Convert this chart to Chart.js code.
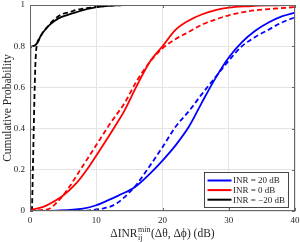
<!DOCTYPE html>
<html>
<head>
<meta charset="utf-8">
<script src="https://cdn.jsdelivr.net/npm/chart.js@4/dist/chart.umd.min.js"></script>
<style>
  html, body { margin: 0; padding: 0; background: #fff; }
  #wrap { width: 300px; height: 242px; }
</style>
</head>
<body>
<div id="wrap"><canvas id="cdfChart" width="300" height="242"></canvas></div>
<script>
// series labels and colours
const seriesLabels = ["INR = 20 dB", "INR = 0 dB", "INR = \u221220 dB"];
const seriesColors = ["#0000ff", "#ff0000", "#000000"];

// INR = 20 dB
const solid20X = [0, 4, 8, 10, 12, 14, 15, 16, 18, 20, 22, 24, 26, 28, 30, 32, 34, 36, 38, 40];
const solid20Y = [0, 0.002, 0.012, 0.028, 0.055, 0.085, 0.1, 0.12, 0.178, 0.245, 0.32, 0.41, 0.53, 0.645, 0.745, 0.82, 0.875, 0.915, 0.945, 0.963];
const dashed20X = [0, 6, 9, 11, 12, 13, 14, 15, 16, 18, 20, 22, 24, 26, 28, 30, 32, 34, 36, 38, 40];
const dashed20Y = [0, 0, 0.003, 0.012, 0.02, 0.035, 0.06, 0.09, 0.125, 0.215, 0.31, 0.41, 0.485, 0.57, 0.65, 0.73, 0.8, 0.845, 0.88, 0.915, 0.94];

// INR = 0 dB
const solid0X = [0, 2, 3, 5, 7, 9, 11, 13, 14.3, 16, 18, 20, 22, 24, 26, 28, 30, 33, 36, 40];
const solid0Y = [0.005, 0.02, 0.035, 0.075, 0.135, 0.22, 0.318, 0.42, 0.49, 0.6, 0.72, 0.8, 0.88, 0.925, 0.955, 0.975, 0.987, 0.994, 0.998, 1.0];
const dashed0X = [0, 2, 3, 4, 5, 6, 7, 8, 9, 10, 11, 12, 13, 14.3, 16, 18, 20, 22, 24, 26, 28, 30, 33, 36, 40];
const dashed0Y = [0, 0.005, 0.012, 0.04, 0.075, 0.12, 0.17, 0.22, 0.27, 0.32, 0.37, 0.42, 0.465, 0.525, 0.625, 0.72, 0.79, 0.835, 0.87, 0.905, 0.93, 0.95, 0.97, 0.98, 0.99];

// INR = -20 dB
const solidM20X = [0, 0.05, 0.4, 1.2, 1.6, 2.3, 3, 4.3, 5.5, 7, 8, 9.3, 11, 12.8, 14, 40];
const solidM20Y = [0, 0.79, 0.8, 0.82, 0.85, 0.88, 0.905, 0.935, 0.95, 0.965, 0.975, 0.985, 0.993, 0.998, 1, 1];
const dashedM20X = [0.3, 0.8, 1.0, 1.5, 2, 2.8, 3.5, 4.8, 6, 6.8, 8, 9.3, 11, 13, 14, 40];
const dashedM20Y = [0, 0.7, 0.8, 0.84, 0.87, 0.9, 0.925, 0.955, 0.965, 0.975, 0.982, 0.988, 0.994, 0.998, 1, 1];

// axis ticks
const xTickLabels = [0, 10, 20, 30, 40];
const yTickLabels = [0, 0.2, 0.4, 0.6, 0.8, 1];

const serif = '"Liberation Serif", "DejaVu Serif", serif';
const textColor = "#262626";

function pts(xs, ys) {
  return xs.map((x, i) => ({ x: x, y: ys[i] }));
}

function isMajorY(v) {
  return yTickLabels.some(t => Math.abs(t - v) < 1e-6);
}

const seriesData = [
  [pts(solid20X, solid20Y), pts(dashed20X, dashed20Y)],
  [pts(solid0X, solid0Y), pts(dashed0X, dashed0Y)],
  [pts(solidM20X, solidM20Y), pts(dashedM20X, dashedM20Y)],
];

const datasets = [];
seriesData.forEach((pair, i) => {
  datasets.push({
    label: seriesLabels[i],
    data: pair[0],
    borderColor: seriesColors[i],
    borderWidth: 1.8,
    inLegend: true,
  });
  datasets.push({
    label: seriesLabels[i] + " (dashed)",
    data: pair[1],
    borderColor: seriesColors[i],
    borderWidth: 1.8,
    borderDash: [5, 3],
    inLegend: false,
  });
});

// frame, inward ticks, axis titles and the legend box
const decorPlugin = {
  id: "decor",
  afterDatasetsDraw(chart) {
    const ctx = chart.ctx;
    const ca = chart.chartArea;
    const xs = chart.scales.x, ys = chart.scales.y;
    ctx.save();

    // box
    ctx.strokeStyle = "#666";
    ctx.lineWidth = 1;
    ctx.strokeRect(ca.left + 0.5, ca.top + 0.5, ca.right - ca.left - 1, ca.bottom - ca.top - 1);

    // inward tick marks
    ctx.beginPath();
    xTickLabels.forEach(v => {
      const px = Math.round(xs.getPixelForValue(v)) + 0.5;
      ctx.moveTo(px, ca.bottom); ctx.lineTo(px, ca.bottom - 3);
      ctx.moveTo(px, ca.top); ctx.lineTo(px, ca.top + 3);
    });
    yTickLabels.forEach(v => {
      const py = Math.round(ys.getPixelForValue(v)) + 0.5;
      ctx.moveTo(ca.left, py); ctx.lineTo(ca.left + 3, py);
      ctx.moveTo(ca.right, py); ctx.lineTo(ca.right - 3, py);
    });
    ctx.stroke();

    // y title
    ctx.fillStyle = textColor;
    ctx.font = "11.5px " + serif;
    ctx.textAlign = "center";
    ctx.textBaseline = "middle";
    ctx.save();
    ctx.translate(8, (ca.top + ca.bottom) / 2);
    ctx.rotate(-Math.PI / 2);
    ctx.fillText("Cumulative Probability", 0, 0);
    ctx.restore();

    // x title with sub/superscript
    const baseFont = "11.5px " + serif;
    const smallFont = "8px " + serif;
    const partA = "\u0394INR", sup = "min", sub = "ij", partB = "(\u0394\u03b8, \u0394\u03d5) (dB)";
    ctx.font = baseFont;
    const wA = ctx.measureText(partA).width;
    const wB = ctx.measureText(partB).width;
    ctx.font = smallFont;
    const wS = Math.max(ctx.measureText(sup).width, ctx.measureText(sub).width) + 1;
    const total = wA + wS + wB;
    let x0 = (ca.left + ca.right) / 2 - total / 2;
    const base = 237;
    ctx.textAlign = "left";
    ctx.textBaseline = "alphabetic";
    ctx.font = baseFont;
    ctx.fillText(partA, x0, base);
    ctx.font = smallFont;
    ctx.fillText(sup, x0 + wA + 0.5, base - 5);
    ctx.fillText(sub, x0 + wA + 0.5, base + 2.5);
    ctx.font = baseFont;
    ctx.fillText(partB, x0 + wA + wS, base);

    // legend
    const bx = 204.5, by = 172.5, bw = 84, bh = 35;
    ctx.fillStyle = "#fff";
    ctx.fillRect(bx, by, bw, bh);
    ctx.strokeStyle = "#333";
    ctx.lineWidth = 0.9;
    ctx.strokeRect(bx, by, bw, bh);
    ctx.font = "9px " + serif;
    ctx.textBaseline = "middle";
    const entries = chart.data.datasets.filter(d => d.inLegend);
    entries.forEach((d, i) => {
      const y = by + 8 + i * 9.6;
      ctx.strokeStyle = d.borderColor;
      ctx.lineWidth = 2;
      ctx.beginPath();
      ctx.moveTo(bx + 3, y);
      ctx.lineTo(bx + 27, y);
      ctx.stroke();
      ctx.fillStyle = textColor;
      ctx.fillText(d.label, bx + 28.5, y + 0.5);
    });

    ctx.restore();
  },
};

const gridColor = "#e4e4e4";

new Chart(document.getElementById("cdfChart").getContext("2d"), {
  type: "line",
  data: { datasets: datasets },
  options: {
    responsive: false,
    animation: false,
    layout: { padding: { left: 0, right: 5, top: 5, bottom: 0 } },
    elements: {
      point: { radius: 0 },
      line: { cubicInterpolationMode: "monotone", fill: false },
    },
    plugins: {
      legend: { display: false },
      tooltip: { enabled: false },
    },
    scales: {
      x: {
        type: "linear",
        min: 0,
        max: 40,
        ticks: {
          stepSize: 2,
          autoSkip: false,
          maxRotation: 0,
          padding: 4,
          color: textColor,
          font: { family: serif, size: 9 },
          callback: v => (xTickLabels.includes(v) ? String(v) : null),
        },
        grid: {
          drawTicks: false,
          color: gridColor,
          lineWidth: 1,
        },
        border: {
          display: false,
          dash: c => (c.tick && xTickLabels.includes(c.tick.value) ? [] : [1, 2]),
        },
        afterFit: s => {
          s.height = 31;
          s.paddingLeft = 0;
          s.paddingRight = 0;
        },
      },
      y: {
        type: "linear",
        min: 0,
        max: 1,
        ticks: {
          stepSize: 0.05,
          autoSkip: false,
          padding: 5,
          color: textColor,
          font: { family: serif, size: 9 },
          callback: v => (isMajorY(v) ? (v === 0 || v === 1 ? String(v) : v.toFixed(1)) : null),
        },
        grid: {
          drawTicks: false,
          color: gridColor,
          lineWidth: 1,
        },
        border: {
          display: false,
          dash: c => (c.tick && isMajorY(c.tick.value) ? [] : [1, 2]),
        },
        afterFit: s => {
          s.width = 30;
          s.paddingTop = 0;
          s.paddingBottom = 0;
        },
      },
    },
  },
  plugins: [decorPlugin],
});
</script>
</body>
</html>
